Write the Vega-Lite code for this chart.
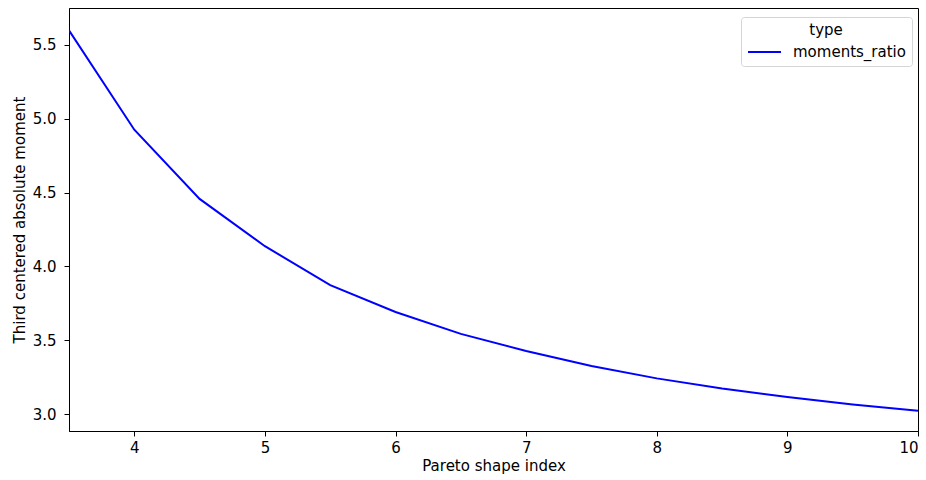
{
  "$schema": "https://vega.github.io/schema/vega-lite/v6.json",
  "width": 849,
  "height": 423,
  "autosize": {"type": "none"},
  "padding": {"left": 69, "top": 8, "right": 8, "bottom": 49},
  "background": "white",
  "config": {
    "font": "DejaVu Sans",
    "view": {"stroke": "black", "strokeWidth": 1},
    "axis": {
      "grid": false,
      "domainColor": "black",
      "tickColor": "black",
      "tickSize": 5,
      "labelColor": "black",
      "titleColor": "black",
      "labelFontSize": 15,
      "titleFontSize": 15,
      "titleFontWeight": "normal"
    }
  },
  "data": {
    "values": [
      {"alpha": 3.5, "moment": 5.597, "type": "moments_ratio"},
      {"alpha": 4.0, "moment": 4.925, "type": "moments_ratio"},
      {"alpha": 4.5, "moment": 4.457, "type": "moments_ratio"},
      {"alpha": 5.0, "moment": 4.137, "type": "moments_ratio"},
      {"alpha": 5.5, "moment": 3.874, "type": "moments_ratio"},
      {"alpha": 6.0, "moment": 3.692, "type": "moments_ratio"},
      {"alpha": 6.5, "moment": 3.544, "type": "moments_ratio"},
      {"alpha": 7.0, "moment": 3.428, "type": "moments_ratio"},
      {"alpha": 7.5, "moment": 3.327, "type": "moments_ratio"},
      {"alpha": 8.0, "moment": 3.243, "type": "moments_ratio"},
      {"alpha": 8.5, "moment": 3.175, "type": "moments_ratio"},
      {"alpha": 9.0, "moment": 3.117, "type": "moments_ratio"},
      {"alpha": 9.5, "moment": 3.067, "type": "moments_ratio"},
      {"alpha": 10.0, "moment": 3.024, "type": "moments_ratio"}
    ]
  },
  "mark": {"type": "line", "strokeWidth": 2, "clip": true},
  "encoding": {
    "x": {
      "field": "alpha",
      "type": "quantitative",
      "scale": {"domain": [3.5, 10], "nice": false, "zero": false},
      "axis": {"title": "Pareto shape index", "values": [4, 5, 6, 7, 8, 9, 10], "format": "d", "labelPadding": 4, "titlePadding": 3}
    },
    "y": {
      "field": "moment",
      "type": "quantitative",
      "scale": {"domain": [2.887, 5.748], "nice": false, "zero": false},
      "axis": {"title": "Third centered absolute moment", "values": [3.0, 3.5, 4.0, 4.5, 5.0, 5.5], "format": ".1f", "labelPadding": 8, "titlePadding": 5}
    },
    "color": {
      "field": "type",
      "type": "nominal",
      "scale": {"range": ["#0000ff"]},
      "legend": {
        "title": "type",
        "orient": "none",
        "legendX": 672,
        "legendY": 9,
        "fillColor": "white",
        "strokeColor": "#d5d5d5",
        "cornerRadius": 3,
        "padding": 6,
        "titleFontSize": 15,
        "titleFontWeight": "normal",
        "titleColor": "black",
        "titleAnchor": "middle",
        "titleAlign": "center",
        "titlePadding": 5,
        "labelFontSize": 15,
        "labelColor": "black",
        "labelOffset": 28,
        "symbolType": "M-1,0H3.125",
        "symbolSize": 256,
        "symbolStrokeWidth": 2
      }
    }
  }
}
